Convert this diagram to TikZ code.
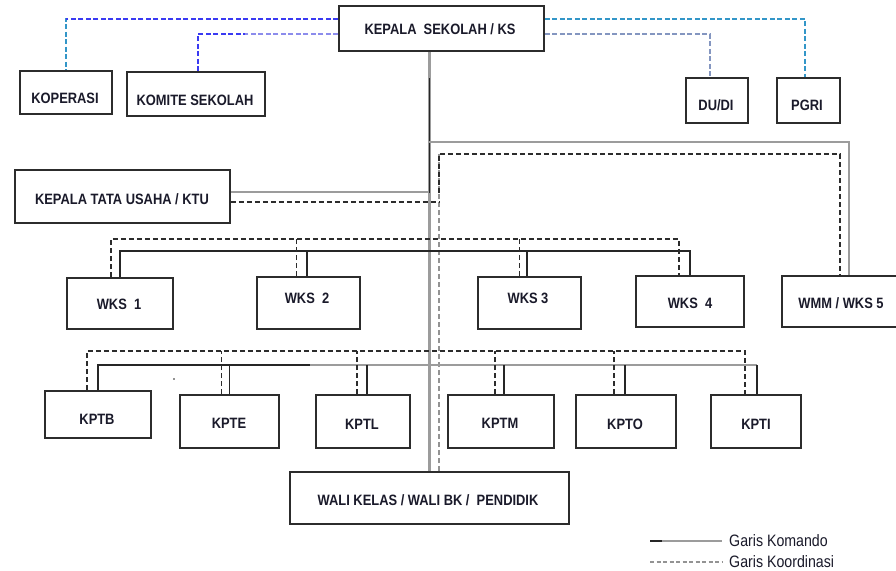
\documentclass[tikz,border=0pt]{standalone}
\usepackage{fontspec}
\newfontfamily\boxfont[FakeStretch=0.86]{Liberation Sans}
\newfontfamily\legfont[FakeStretch=0.86]{Liberation Sans}
\definecolor{boxline}{HTML}{2C2C2C}
\definecolor{ink}{HTML}{1A1A2A}
\definecolor{cmdgrey}{HTML}{9C9C9C}
\definecolor{cmdblack}{HTML}{262626}
\definecolor{kblue}{HTML}{3A3AF2}
\definecolor{klav}{HTML}{8C8CEC}
\definecolor{kteal}{HTML}{3396C8}
\definecolor{kslate}{HTML}{8496C0}
\begin{document}
\begin{tikzpicture}[x=1pt,y=-1pt,
  orgbox/.style={draw=boxline, line width=1.8pt, rectangle, inner sep=0pt, anchor=north west},
  lbl/.style={font=\boxfont\bfseries\fontsize{15}{18}\selectfont, text=ink, inner sep=0pt},
  legtext/.style={font=\legfont\fontsize{16.5}{19}\selectfont, text=ink, anchor=west, inner xsep=7pt, inner ysep=0pt},
  cmd/.style={draw=cmdblack, line width=1.8pt},
  cmdg/.style={draw=cmdgrey, line width=2.4pt},
  koord/.style={draw=boxline, line width=1.6pt, dash pattern=on 5pt off 3pt},
  koordg/.style={draw=gray!85, line width=1.6pt, dash pattern=on 5pt off 3pt},
  ext/.style={line width=1.7pt, dash pattern=on 5pt off 2.5pt}
]
\useasboundingbox (0,0) rectangle (896,570);
\fill[white] (0,0) rectangle (896,570);

% ---- boxes ----
\node[orgbox, minimum width=205pt, minimum height=45pt] (ks)   at (338,5)   {};
\node[orgbox, minimum width=92pt,  minimum height=43pt] (kop)  at (19,70)   {};
\node[orgbox, minimum width=138pt, minimum height=44pt] (kom)  at (126,71)  {};
\node[orgbox, minimum width=62pt,  minimum height=45pt] (dudi) at (685,77)  {};
\node[orgbox, minimum width=63pt,  minimum height=45pt] (pgri) at (776,77)  {};
\node[orgbox, minimum width=215pt, minimum height=53pt] (ktu)  at (14,169)  {};
\node[orgbox, minimum width=106pt, minimum height=51pt] (wks1) at (66,277)  {};
\node[orgbox, minimum width=103pt, minimum height=52pt] (wks2) at (256,276) {};
\node[orgbox, minimum width=103pt, minimum height=52pt] (wks3) at (477,276) {};
\node[orgbox, minimum width=108pt, minimum height=51pt] (wks4) at (635,275) {};
\node[orgbox, minimum width=120pt, minimum height=51pt] (wmm)  at (781,275) {};
\node[orgbox, minimum width=106pt, minimum height=47pt] (kptb) at (44,390)  {};
\node[orgbox, minimum width=99pt,  minimum height=53pt] (kpte) at (179,394) {};
\node[orgbox, minimum width=94pt,  minimum height=53pt] (kptl) at (315,394) {};
\node[orgbox, minimum width=106pt, minimum height=53pt] (kptm) at (447,394) {};
\node[orgbox, minimum width=100pt, minimum height=53pt] (kpto) at (575,394) {};
\node[orgbox, minimum width=90pt,  minimum height=53pt] (kpti) at (710,394) {};
\node[orgbox, minimum width=279pt, minimum height=52pt] (wali) at (289,471) {};

% ---- labels ----
\node[lbl] (ks-t)   at (440,29)  {KEPALA\ \ SEKOLAH / KS};
\node[lbl] (kop-t)  at (65,98)   {KOPERASI};
\node[lbl] (kom-t)  at (195,100) {KOMITE SEKOLAH};
\node[lbl] (dudi-t) at (716,105) {DU/DI};
\node[lbl] (pgri-t) at (807,105) {PGRI};
\node[lbl] (ktu-t)  at (122,199) {KEPALA TATA USAHA / KTU};
\node[lbl] (wks1-t) at (119,304) {WKS\ \ 1};
\node[lbl] (wks2-t) at (307,298) {WKS\ \ 2};
\node[lbl] (wks3-t) at (528,298) {WKS 3};
\node[lbl] (wks4-t) at (690,303) {WKS\ \ 4};
\node[lbl] (wmm-t)  at (841,303) {WMM / WKS 5};
\node[lbl] (kptb-t) at (97,419)  {KPTB};
\node[lbl] (kpte-t) at (229,423) {KPTE};
\node[lbl] (kptl-t) at (362,424) {KPTL};
\node[lbl] (kptm-t) at (500,423) {KPTM};
\node[lbl] (kpto-t) at (625,424) {KPTO};
\node[lbl] (kpti-t) at (756,424) {KPTI};
\node[lbl] (wali-t) at (428,500) {WALI KELAS / WALI BK /\ \ PENDIDIK};

% ---- bus heights ----
\coordinate (gtop)   at (0,142);
\coordinate (ktop)   at (0,154);
\coordinate (blkend) at (0,193);
\coordinate (blkbeg) at (0,78);
\coordinate (wkbus)  at (0,251);
\coordinate (wkdash) at (0,239);
\coordinate (kpbus)  at (0,365);
\coordinate (kpdash) at (0,351);
\coordinate (kpblk)  at (310,365);

% ---- attachment points on the boxes ----
\coordinate (ks-w1) at ([yshift=9.5pt]ks.west);
\coordinate (ks-w2) at ([yshift=-5.5pt]ks.west);
\coordinate (ks-e1) at ([yshift=9.5pt]ks.east);
\coordinate (ks-e2) at ([yshift=-5.5pt]ks.east);
\coordinate (kom-n) at ([xshift=2pt]kom.north);
\coordinate (pgri-n) at ([xshift=-3.5pt]pgri.north);
\coordinate (dudi-n) at ([xshift=-7pt]dudi.north);
\coordinate (ktu-c) at ([yshift=4.5pt]ktu.east);
\coordinate (ktu-d) at ([yshift=-5.5pt]ktu.east);
\coordinate (wali-d) at ([xshift=9.5pt]wali.north);
\coordinate (wmm-c) at ([xshift=7pt]wmm.north);
\coordinate (wmm-d) at ([xshift=-2pt]wmm.north);
\coordinate (wks1-d) at ([xshift=-9pt]wks1.north);
\coordinate (wks2-c) at ([xshift=-1.5pt]wks2.north);
\coordinate (wks2-d) at ([xshift=-12pt]wks2.north);
\coordinate (wks3-c) at ([xshift=-2.5pt]wks3.north);
\coordinate (wks3-d) at ([xshift=-10pt]wks3.north);
\coordinate (wks4-d) at ([xshift=-11pt]wks4.north);
\coordinate (kptb-d) at ([xshift=-11pt]kptb.north);
\coordinate (kpte-d) at ([xshift=-8pt]kpte.north);
\coordinate (kptl-c) at ([xshift=4pt]kptl.north);
\coordinate (kptl-d) at ([xshift=-6pt]kptl.north);
\coordinate (kptm-c) at ([xshift=3pt]kptm.north);
\coordinate (kptm-d) at ([xshift=-6pt]kptm.north);
\coordinate (kpto-c) at ([xshift=-1pt]kpto.north);
\coordinate (kpto-d) at ([xshift=-12pt]kpto.north);
\coordinate (kpti-c) at ([xshift=1pt]kpti.north);
\coordinate (kpti-d) at ([xshift=-11pt]kpti.north);

% ---- external coordination lines ----
\draw[ext, kteal] (ks-w1) -| (kop.north);
\draw[ext, kblue] (ks-w1) -- (ks-w1 -| kop.north);
\draw[ext, kblue] (ks-w2) -| (kom-n);
\draw[ext, klav]  (ks-w2) -- ++(-93,0);
\draw[ext, kteal] (ks-e1) -| (pgri-n);
\draw[ext, kslate] (ks-e2) -| (dudi-n);

% ---- command trunk ----
\draw[cmdg] (ks.south -| wali.north) -- (wali.north);
\draw[cmd, line width=1.6pt] (blkbeg -| wali.north) -- (blkend -| wali.north);
\draw[cmdg] (gtop -| wali.north) -| (wmm-c);
\draw[cmdg] (ktu-c) -- (ktu-c -| wali.north);

% ---- coordination trunk ----
\draw[koordg] (wali-d) -- (wali-d |- ktop);
\draw[koord] (wali-d |- blkend) |- (ktop -| wmm-d) -- (wmm-d);
\draw[koord] (ktu-d) -- (ktu-d -| wali-d);

% ---- WKS row ----
\draw[cmd] (wks1.north) |- (wkbus -| wks4.north) -- (wks4.north);
\draw[cmd] (wks2-c) -- (wks2-c |- wkbus);
\draw[cmd] (wks3-c) -- (wks3-c |- wkbus);
\draw[koord] (wks1-d) |- (wkdash -| wks4-d) -- (wks4-d);
\draw[koord] (wks2-d) -- (wks2-d |- wkdash);
\draw[koord] (wks3-d) -- (wks3-d |- wkdash);

% ---- KPT row ----
\draw[cmdg] (kpbus -| kptb.north) -- (kpbus -| kpti-c);
\draw[cmd] (kptb.north) |- (kpblk);
\draw[cmd] (kpte.north) -- (kpte.north |- kpbus);
\draw[cmd] (kptl-c) -- (kptl-c |- kpbus);
\draw[cmd] (kptm-c) -- (kptm-c |- kpbus);
\draw[cmd] (kpto-c) -- (kpto-c |- kpbus);
\draw[cmd] (kpti-c) -- (kpti-c |- kpbus);
\draw[koord] (kptb-d) |- (kpdash -| kpti-d) -- (kpti-d);
\draw[koord] (kpte-d) -- (kpte-d |- kpdash);
\draw[koord] (kptl-d) -- (kptl-d |- kpdash);
\draw[koord] (kptm-d) -- (kptm-d |- kpdash);
\draw[koord] (kpto-d) -- (kpto-d |- kpdash);

\fill[cmdblack] (174,379) circle (0.9pt);

% ---- legend ----
\node[legtext] (legk) at (722,541) {Garis Komando};
\node[legtext] (legd) at (722,562) {Garis Koordinasi};
\coordinate (legks) at (650,541);
\coordinate (legds) at (650,562);
\draw[cmdg, line width=1.8pt] (legks) -- (legk.west);
\draw[cmd] (legks) -- ++(12,0);
\draw[draw=gray!85, line width=1.6pt, dash pattern=on 4pt off 2.5pt] (legds) -- (legd.west);
\end{tikzpicture}
\end{document}
